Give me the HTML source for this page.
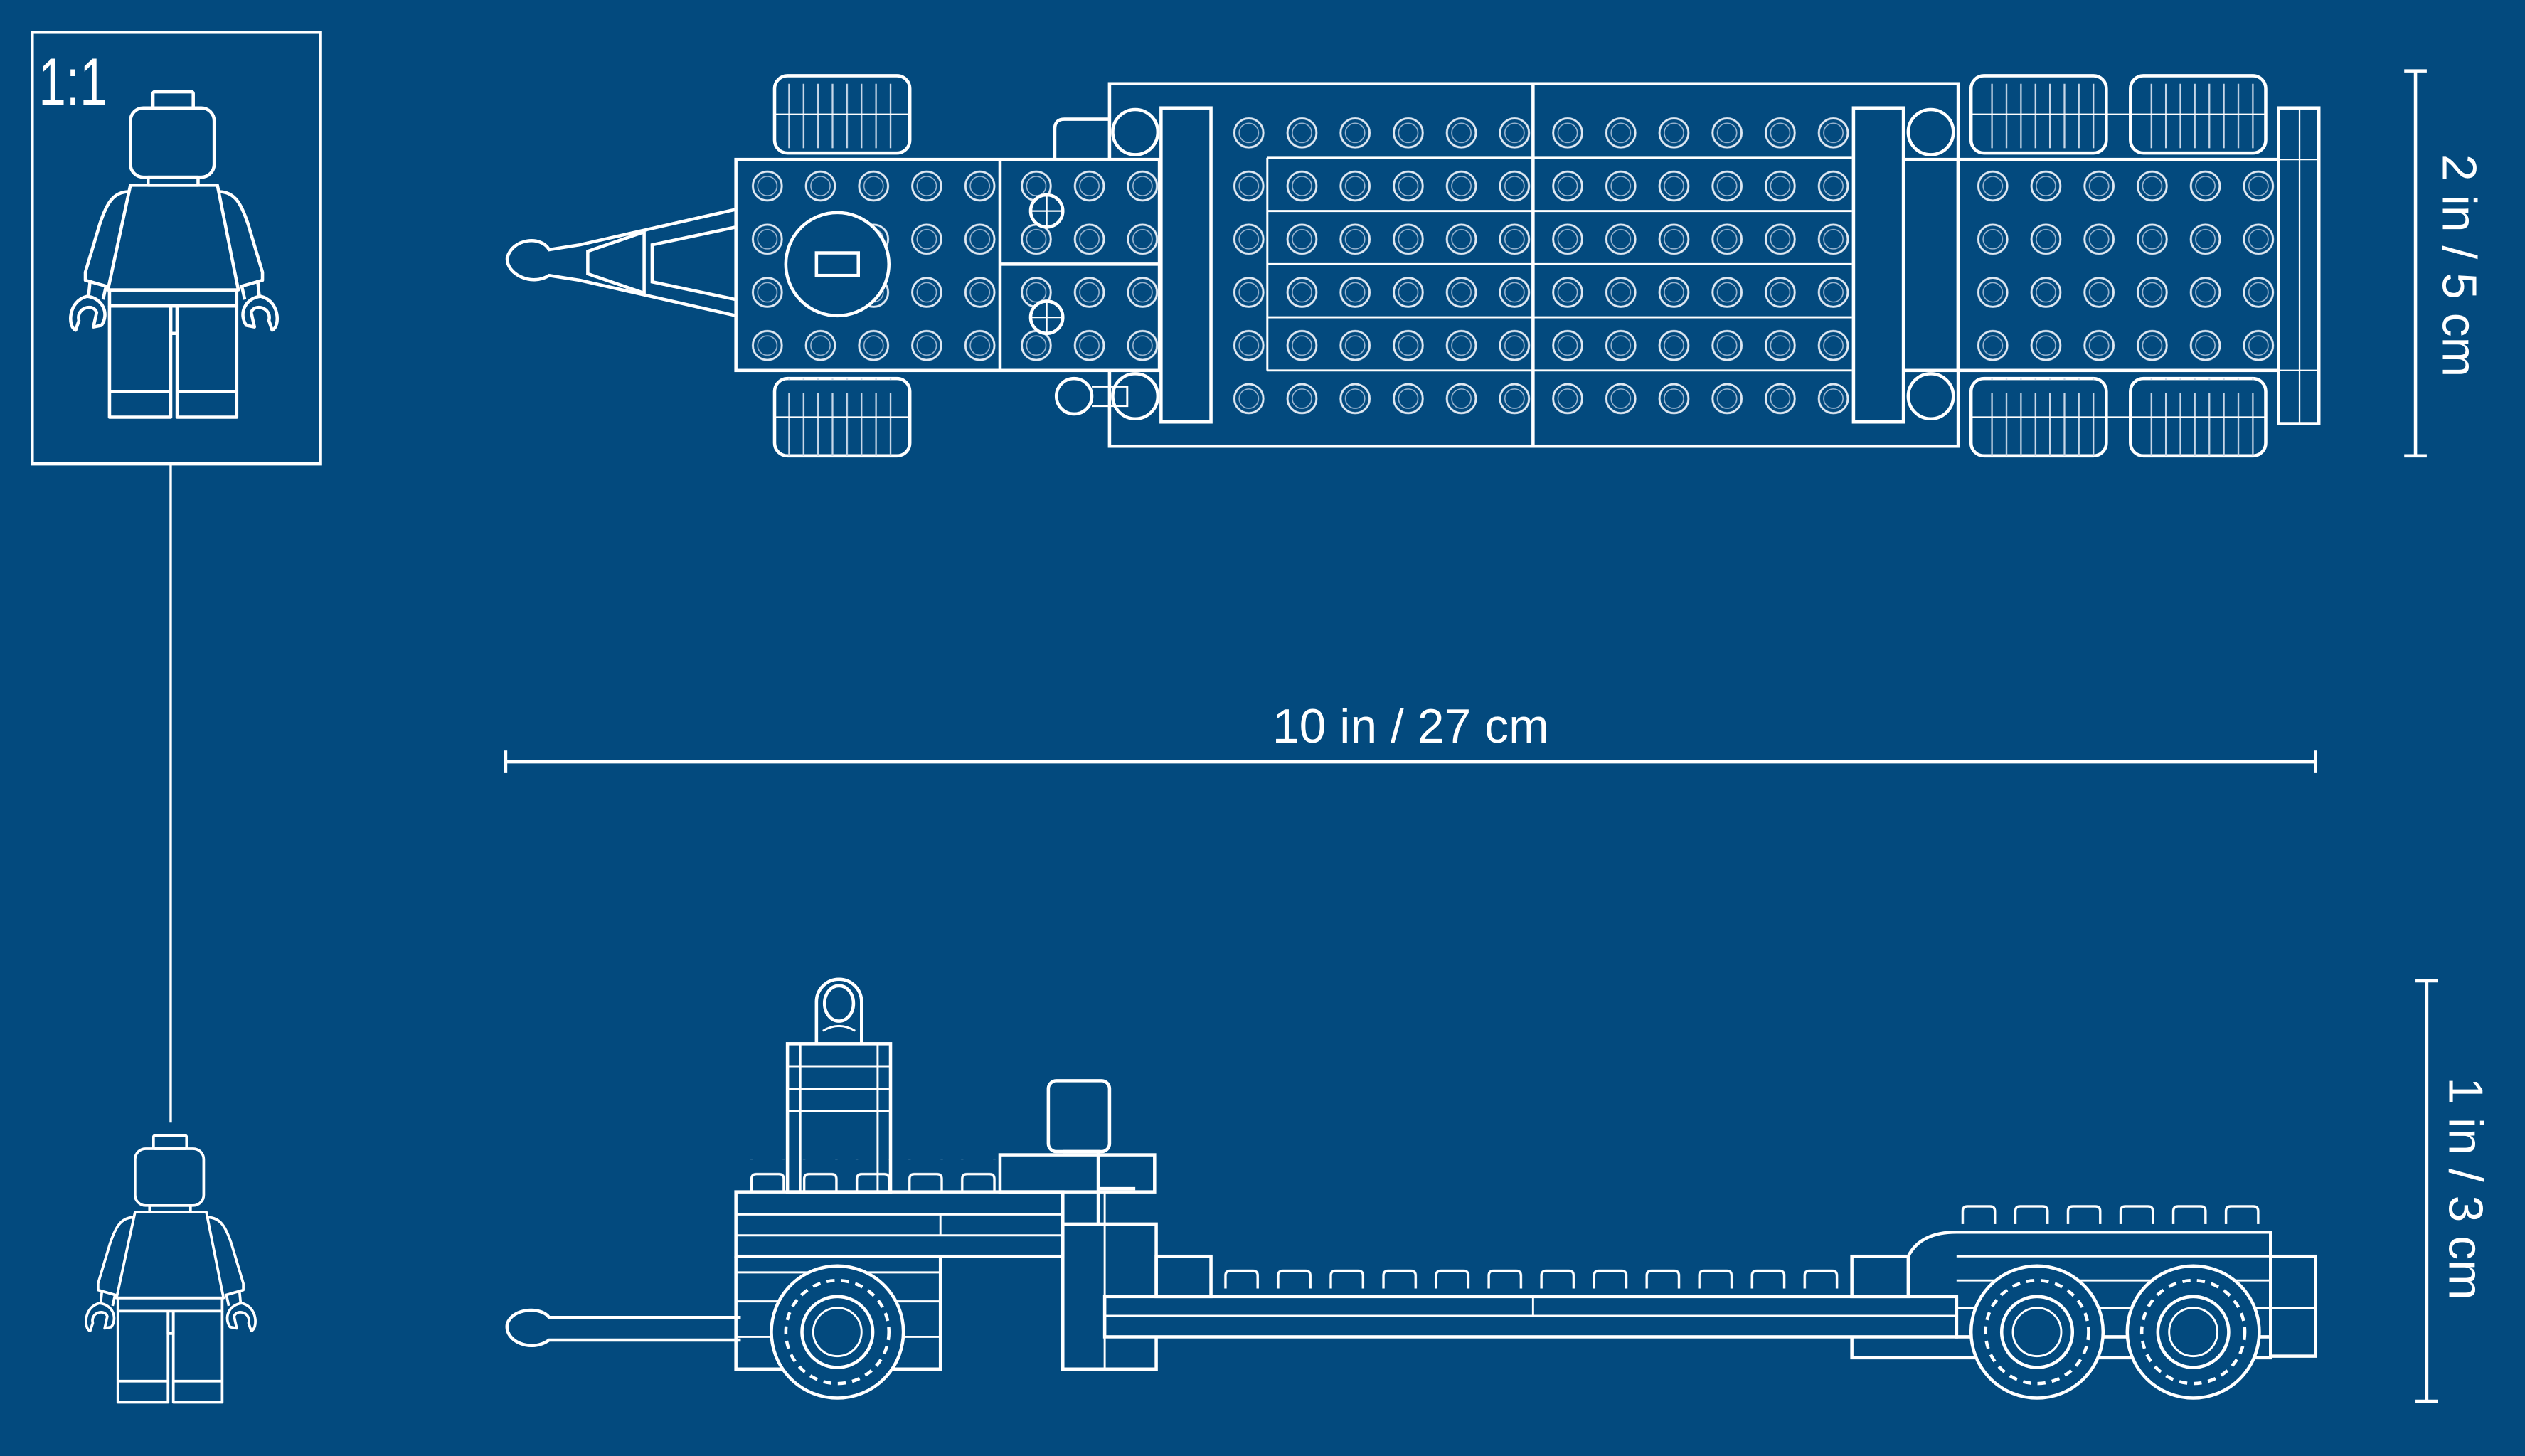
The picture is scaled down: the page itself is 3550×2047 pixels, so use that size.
<!DOCTYPE html>
<html><head><meta charset="utf-8"><style>
html,body{margin:0;padding:0;background:#034a7e;}
svg{display:block}
</style></head><body>
<svg width="3550" height="2047" viewBox="0 0 1568 904" xmlns="http://www.w3.org/2000/svg" preserveAspectRatio="none">
<defs>
<pattern id="stud" patternUnits="userSpaceOnUse" width="33" height="33" x="0" y="0">
<circle cx="16.5" cy="16.5" r="9" fill="none" stroke="#dfe8f2" stroke-width="1.3"/>
<circle cx="16.5" cy="16.5" r="6" fill="none" stroke="#9fb8d2" stroke-width="0.7"/>
</pattern>
<pattern id="sstud" patternUnits="userSpaceOnUse" width="32.7" height="20" x="757" y="0">
<path d="M4,20 V12 Q4,9 7,9 H21 Q24,9 24,12 V20" fill="none" stroke="#fff" stroke-width="1.5"/>
</pattern>
<pattern id="tread" patternUnits="userSpaceOnUse" width="9" height="48">
<line x1="4" y1="4" x2="4" y2="44" stroke="#c8d7e8" stroke-width="1"/>
</pattern>
<g id="fig" fill="none" stroke="#fff" stroke-width="2" stroke-linejoin="round">
<rect x="-13" y="0" width="25" height="10" rx="1"/>
<rect x="-27" y="10" width="52" height="43" rx="8"/>
<rect x="-16" y="53" width="31" height="5"/>
<path d="M-27,58 H27 L40,123 H-41 Z"/>
<path d="M-28,62 C-38,62 -42,70 -46,82 L-55,112 L-55,117 L-41,121"/>
<path d="M28,62 C38,62 42,70 46,82 L55,112 L55,117 L41,121"/>
<path d="M-52,117 L-53,127 M-42,120 L-44,129"/>
<path d="M52,117 L53,127 M42,120 L44,129"/>
<path d="M-54,127 C-66,130 -66,146 -61,148 L-59,142 C-61,134 -50,131 -48,137 L-50,146 L-45,145 C-40,138 -44,128 -54,127 Z"/>
<path d="M54,127 C66,130 66,146 61,148 L59,142 C61,134 50,131 48,137 L50,146 L45,145 C40,138 44,128 54,127 Z"/>
<rect x="-40" y="123" width="79" height="10"/>
<path d="M-40,133 V202 H-2 V133 M2,133 V202 H39 V133"/>
<path d="M-40,186 H-2 M2,186 H39 M-2,133 V150 H2 V133"/>
</g>
</defs>
<rect width="1568" height="904" fill="#034a7e"/>

<rect x="20" y="20" width="179" height="268" fill="none" stroke="#fff" stroke-width="2"/>
<text x="0" y="0" fill="#fff" font-family="Liberation Sans, sans-serif" font-size="36" transform="translate(24,65) scale(0.85,1.15)">1:1</text>
<use href="#fig" transform="translate(108,57)"/>
<line x1="106" y1="288" x2="106" y2="697" stroke="#fff" stroke-width="1.5"/>
<use href="#fig" transform="translate(106,705) scale(0.82)"/>

<g stroke="#fff" stroke-width="2" fill="none">
<line x1="314" y1="473" x2="1438" y2="473"/>
<line x1="314" y1="466" x2="314" y2="480"/><line x1="1438" y1="466" x2="1438" y2="480"/>
<line x1="1500" y1="44" x2="1500" y2="283"/>
<line x1="1493" y1="44" x2="1507" y2="44"/><line x1="1493" y1="283" x2="1507" y2="283"/>
<line x1="1507" y1="609" x2="1507" y2="870"/>
<line x1="1500" y1="609" x2="1514" y2="609"/><line x1="1500" y1="870" x2="1514" y2="870"/>
</g>
<g fill="#fff" font-family="Liberation Sans, sans-serif" font-size="30" text-anchor="middle">
<text x="876" y="461">10 in / 27 cm</text>
<text transform="translate(1517,165) rotate(90)">2 in / 5 cm</text>
<text transform="translate(1521,738) rotate(90)">1 in / 3 cm</text>
</g>

<g fill="none" stroke="#fff" stroke-width="2">
<path d="M457,130 L360,152 L341,155 C336,146 318,148 315,160 C314,170 330,178 341,171 L360,174 L457,196"/>
<path d="M457,141 L405,152 V175 L457,186 M400,144 L365,156 V170 L400,182 Z"/>
<rect x="481" y="47" width="84" height="48" rx="8"/>
<rect x="481" y="235" width="84" height="48" rx="8"/>
<rect x="1224" y="47" width="84" height="48" rx="8"/>
<rect x="1323" y="47" width="84" height="48" rx="8"/>
<rect x="1224" y="235" width="84" height="48" rx="8"/>
<rect x="1323" y="235" width="84" height="48" rx="8"/>
</g>
<g fill="url(#tread)">
<rect x="487" y="47" width="72" height="48"/>
<rect x="487" y="235" width="72" height="48"/>
<rect x="1230" y="47" width="72" height="48"/>
<rect x="1329" y="47" width="72" height="48"/>
<rect x="1230" y="235" width="72" height="48"/>
<rect x="1329" y="235" width="72" height="48"/>
</g>
<g fill="none" stroke="#fff" stroke-width="2">
<line x1="481" y1="71" x2="565" y2="71" stroke-width="1"/>
<line x1="481" y1="259" x2="565" y2="259" stroke-width="1"/>
<line x1="1224" y1="71" x2="1407" y2="71" stroke-width="1"/>
<line x1="1224" y1="259" x2="1407" y2="259" stroke-width="1"/>
<rect x="689" y="52" width="527" height="225" fill="#034a7e"/>
<line x1="952" y1="52" x2="952" y2="277"/>
<line x1="787" y1="98" x2="1150" y2="98" stroke-width="1.3"/>
<line x1="787" y1="131" x2="1150" y2="131" stroke-width="1.3"/>
<line x1="787" y1="164" x2="1150" y2="164" stroke-width="1.3"/>
<line x1="787" y1="197" x2="1150" y2="197" stroke-width="1.3"/>
<line x1="787" y1="230" x2="1150" y2="230" stroke-width="1.3"/>
<line x1="787" y1="98" x2="787" y2="230" stroke-width="1.3"/>
<rect x="457" y="99" width="263" height="131" fill="#034a7e"/>
<line x1="621" y1="99" x2="621" y2="230"/>
<line x1="621" y1="164" x2="720" y2="164"/>
<rect x="1216" y="99" width="199" height="131" fill="#034a7e"/>
<rect x="1182" y="99" width="34" height="131"/>
</g>
<rect x="752" y="65" width="399" height="198" fill="url(#stud)"/>
<rect x="458" y="99" width="164" height="131" fill="url(#stud)" transform="translate(-2,0)"/>
<rect x="623" y="99" width="97" height="131" fill="url(#stud)"/>
<rect x="1216" y="99" width="198" height="131" fill="url(#stud)"/>
<g fill="none" stroke="#fff" stroke-width="2">
<circle cx="520" cy="164" r="32" fill="#034a7e"/>
<rect x="507" y="157" width="26" height="14"/>
<circle cx="650" cy="131" r="10" fill="#034a7e"/><path d="M650,121 V141 M640,131 H660" stroke-width="1"/>
<circle cx="650" cy="197" r="10" fill="#034a7e"/><path d="M650,187 V207 M640,197 H660" stroke-width="1"/>
<rect x="721" y="67" width="31" height="195" fill="#034a7e"/>
<rect x="1151" y="67" width="31" height="195" fill="#034a7e"/>
<circle cx="705" cy="82" r="14"/><circle cx="705" cy="246" r="14"/>
<circle cx="1199" cy="82" r="14"/><circle cx="1199" cy="246" r="14"/>
<path d="M655,99 V80 Q655,74 661,74 H689"/>
<circle cx="667" cy="246" r="11"/>
<path d="M678,240 H700 V252 H678" stroke-width="1.3"/>
<rect x="1415" y="67" width="25" height="196"/>
<line x1="1428" y1="67" x2="1428" y2="263" stroke-width="1"/>
<line x1="1415" y1="99" x2="1440" y2="99" stroke-width="1"/><line x1="1415" y1="230" x2="1440" y2="230" stroke-width="1"/>
</g>

<g fill="none" stroke="#fff" stroke-width="2">
<path d="M460,818 H341 C336,811 318,812 315,822 C313,833 330,840 341,832 H460"/>
<path d="M507,648 V622 A14,14 0 0 1 535,622 V648"/>
<ellipse cx="521" cy="623" rx="9" ry="11"/>
<path d="M511,640 Q521,634 531,640" stroke-width="1.3"/>
<rect x="489" y="648" width="64" height="92"/>
<path d="M489,662 H553 M489,676 H553 M489,690 H553 M497,648 V740 M545,648 V740" stroke-width="1.3"/>
<rect x="457" y="740" width="203" height="40"/>
<path d="M457,754 H660 M457,767 H660 M584,754 V767" stroke-width="1.3"/>
<path d="M457,780 V850 H584 V780"/>
<path d="M457,790 H584 M457,808 H584 M457,830 H584" stroke-width="1.3"/>
<rect x="651" y="671" width="38" height="44" rx="5"/>
<path d="M660,715 H682 V738 H705 M682,738 V760"/>
<rect x="621" y="717" width="96" height="23"/>
<path d="M660,760 H718 V805 M660,740 V850 H718 V830"/>
<path d="M686,740 V850" stroke-width="1.3"/>
<rect x="718" y="780" width="34" height="25"/>
<rect x="686" y="805" width="529" height="25"/>
<line x1="686" y1="817" x2="1215" y2="817" stroke-width="1.3"/>
<line x1="952" y1="805" x2="952" y2="817" stroke-width="1.3"/>
<path d="M1150,780 H1185 C1190,770 1200,765 1215,765 H1410 V830 H1215 V805"/>
<path d="M1215,780 H1410 M1215,795 H1410 M1215,812 H1410" stroke-width="1.3"/>
<rect x="1150" y="780" width="35" height="25"/>
<path d="M1150,830 V843 H1410 V830"/>
<rect x="1410" y="780" width="28" height="62"/>
<line x1="1410" y1="812" x2="1438" y2="812" stroke-width="1.3"/>
</g>
<rect x="752" y="785" width="400" height="20" fill="url(#sstud)"/>
<rect x="1215" y="745" width="195" height="20" fill="url(#sstud)"/>
<rect x="457" y="720" width="165" height="20" fill="url(#sstud)"/>
<g fill="#034a7e" stroke="#fff" stroke-width="2">
<circle cx="520" cy="827" r="41"/>
<circle cx="520" cy="827" r="32" stroke-dasharray="5 4"/>
<circle cx="520" cy="827" r="22"/><circle cx="520" cy="827" r="15" stroke-width="1.3"/>
<circle cx="1265" cy="827" r="41"/>
<circle cx="1265" cy="827" r="32" stroke-dasharray="5 4"/>
<circle cx="1265" cy="827" r="22"/><circle cx="1265" cy="827" r="15" stroke-width="1.3"/>
<circle cx="1362" cy="827" r="41"/>
<circle cx="1362" cy="827" r="32" stroke-dasharray="5 4"/>
<circle cx="1362" cy="827" r="22"/><circle cx="1362" cy="827" r="15" stroke-width="1.3"/>
</g>
</svg>
</body></html>
